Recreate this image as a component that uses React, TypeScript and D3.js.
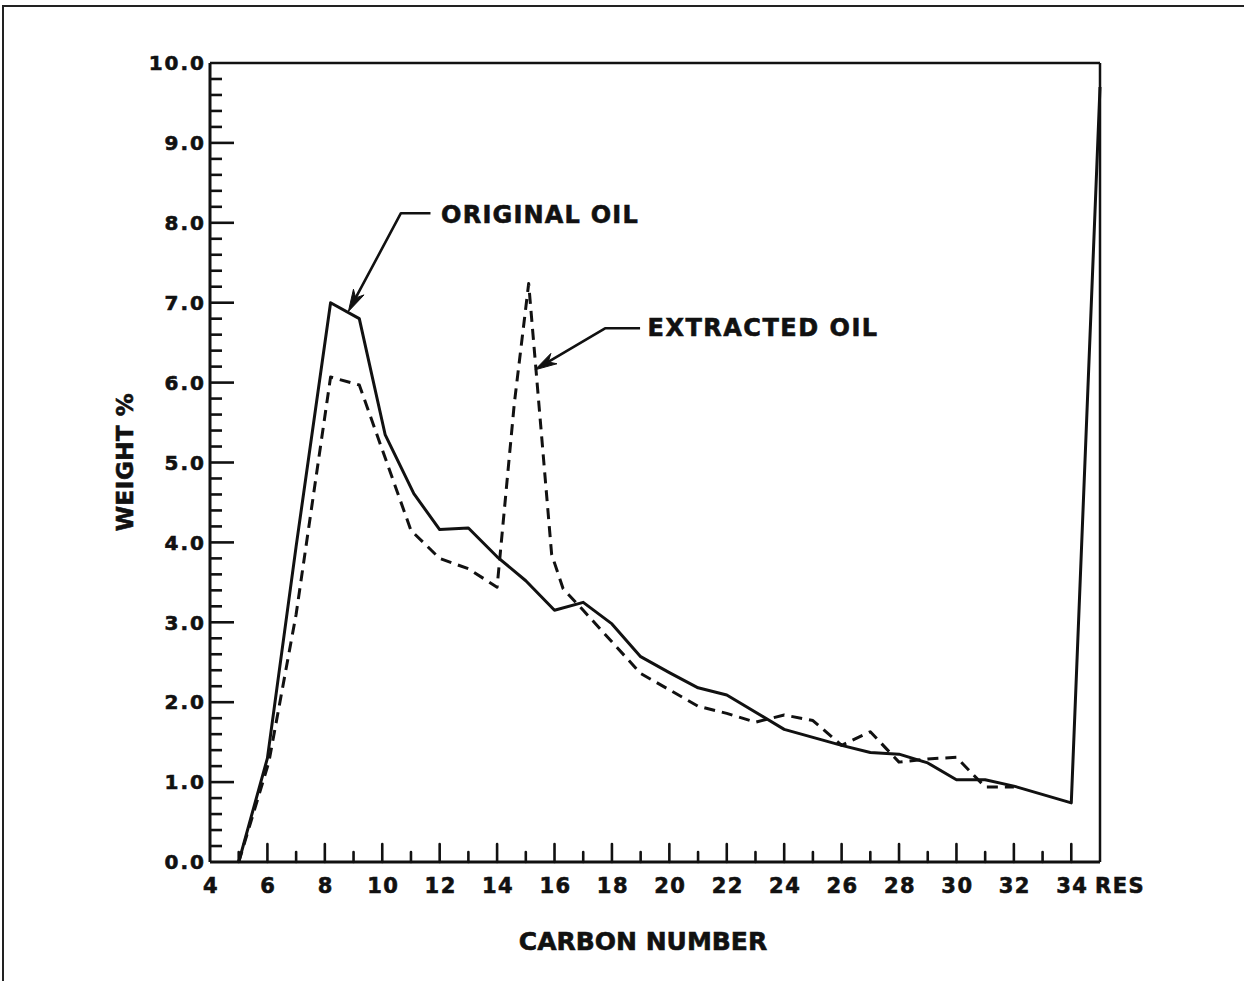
import React from "react";
import * as d3 from "d3";

// carbon number (RES plotted at 35) and weight % for each oil
const originalCarbon = [5, 6, 7, 8.2, 9.2, 10.1, 11.1, 12, 13, 14, 15, 16, 17, 18, 19, 20, 21, 22, 24, 25, 26, 27, 28, 29, 30, 31, 32, 34, 35];
const originalWeight = [0, 1.3, 3.95, 7.0, 6.8, 5.35, 4.61, 4.16, 4.18, 3.82, 3.52, 3.15, 3.25, 2.98, 2.57, 2.37, 2.18, 2.09, 1.66, 1.56, 1.46, 1.37, 1.35, 1.24, 1.03, 1.03, 0.95, 0.74, 9.7];

const extractedCarbon = [5, 6.05, 7, 8.2, 9.2, 11, 12, 13, 14, 14.6, 15.1, 15.9, 16.3, 17, 19, 21, 22, 23, 24, 25, 26, 27, 28, 29, 30, 31, 32];
const extractedWeight = [0, 1.25, 3.1, 6.07, 5.97, 4.15, 3.8, 3.67, 3.44, 5.74, 7.24, 3.85, 3.42, 3.15, 2.36, 1.95, 1.86, 1.75, 1.84, 1.77, 1.46, 1.63, 1.25, 1.29, 1.31, 0.94, 0.94];

const xMajor = [4, 6, 8, 10, 12, 14, 16, 18, 20, 22, 24, 26, 28, 30, 32, 34];
const xMinor = [5, 7, 9, 11, 13, 15, 17, 19, 21, 23, 25, 27, 29, 31, 33];
const yMajor = [0, 1, 2, 3, 4, 5, 6, 7, 8, 9, 10];

// label leaders: [tip, elbow, end] in data units
const originalLeader = [[8.82, 6.89], [10.65, 8.12], [11.68, 8.12]];
const extractedLeader = [[15.32, 6.16], [17.76, 6.68], [18.98, 6.68]];

const FONT = "'DejaVu Sans', Arial, sans-serif";
const INK = "#111";

// scanned type looks heavy, so give the text a thin outline
const textStyle = {
  fontFamily: FONT,
  fontWeight: "bold",
  fill: INK,
  stroke: INK,
  strokeWidth: 0.6,
};

const Arrow = ({ pts, x, y }) => {
  const p = pts.map(([c, w]) => [x(c), y(w)]);
  const [tip, elbow, end] = p;
  const ang = Math.atan2(tip[1] - elbow[1], tip[0] - elbow[0]);
  const len = 22;
  const half = 6;
  const bx = tip[0] - len * Math.cos(ang);
  const by = tip[1] - len * Math.sin(ang);
  const nx = tip[0] - len * 0.7 * Math.cos(ang);
  const ny = tip[1] - len * 0.7 * Math.sin(ang);
  const px = -Math.sin(ang) * half;
  const py = Math.cos(ang) * half;
  const head = `M${tip[0]},${tip[1]}L${bx + px},${by + py}L${nx},${ny}L${bx - px},${by - py}Z`;
  return (
    <g>
      <polyline
        points={`${end[0]},${end[1]} ${elbow[0]},${elbow[1]} ${nx},${ny}`}
        fill="none"
        stroke={INK}
        strokeWidth={2.6}
        strokeLinejoin="round"
      />
      <path d={head} fill={INK} stroke={INK} strokeWidth={1} />
    </g>
  );
};

const App = () => {
  const width = 1244;
  const height = 981;

  const x = d3.scaleLinear().domain([4, 35]).range([210, 1100]);
  const y = d3.scaleLinear().domain([0, 10]).range([862, 63]);

  const line = d3
    .line()
    .x((d) => x(d[0]))
    .y((d) => y(d[1]));

  const originalPath = line(originalCarbon.map((c, i) => [c, originalWeight[i]]));
  const extractedPath = line(extractedCarbon.map((c, i) => [c, extractedWeight[i]]));

  const yMinor = d3.range(0, 10.01, 0.2).filter((v) => Math.abs(v - Math.round(v)) > 0.01);
  const fmt = d3.format(".1f");

  const x0 = x(4);
  const x1 = x(35);
  const y0 = y(0);
  const y1 = y(10);

  return (
    <svg
      width={width}
      height={height}
      style={{ position: "absolute", left: 0, top: 0, background: "#fff" }}
    >
      <rect width={width} height={height} fill="#fff" />
      {/* page frame */}
      <path d={`M3,${height} L3,6 L${width},6`} fill="none" stroke="#222" strokeWidth={2} />

      {/* plot box */}
      <line x1={x0} y1={y1} x2={x1} y2={y1} stroke={INK} strokeWidth={2.5} />
      <line x1={x1} y1={y1} x2={x1} y2={y0} stroke={INK} strokeWidth={2.5} />
      <line x1={x0} y1={y0} x2={x1} y2={y0} stroke={INK} strokeWidth={3} />
      <line x1={x0} y1={y1} x2={x0} y2={y0} stroke={INK} strokeWidth={3} />

      {/* y ticks */}
      {yMajor.slice(1, -1).map((v) => (
        <line key={`ym${v}`} x1={x0} x2={x0 + 24} y1={y(v)} y2={y(v)} stroke={INK} strokeWidth={2.6} />
      ))}
      {yMinor.map((v, i) => (
        <line key={`yn${i}`} x1={x0} x2={x0 + 12} y1={y(v)} y2={y(v)} stroke={INK} strokeWidth={2.6} />
      ))}
      {yMajor.map((v) => (
        <text
          key={`yl${v}`}
          x={x0 - 4}
          y={y(v)}
          dy="0.36em"
          textAnchor="end"
          fontSize={20}
          letterSpacing={2}
          {...textStyle}
        >
          {fmt(v)}
        </text>
      ))}

      {/* x ticks */}
      {xMajor.slice(1).map((c) => (
        <line key={`xm${c}`} x1={x(c)} x2={x(c)} y1={y0} y2={y0 - 18} stroke={INK} strokeWidth={2.6} strokeLinecap="round" />
      ))}
      {xMinor.map((c) => (
        <line key={`xn${c}`} x1={x(c)} x2={x(c)} y1={y0} y2={y0 - 10} stroke={INK} strokeWidth={2.6} strokeLinecap="round" />
      ))}
      {xMajor.map((c) => (
        <text
          key={`xl${c}`}
          x={x(c) + 1}
          y={y0 + 31}
          textAnchor="middle"
          fontSize={21}
          letterSpacing={1.5}
          {...textStyle}
        >
          {c}
        </text>
      ))}
      <text x={x(35) - 5} y={y0 + 31} textAnchor="start" fontSize={21} letterSpacing={1.5} {...textStyle}>
        RES
      </text>

      {/* axis titles */}
      <text x={643} y={950} textAnchor="middle" fontSize={25} {...textStyle}>
        CARBON NUMBER
      </text>
      <text
        transform="translate(133, 462) rotate(-90)"
        textAnchor="middle"
        fontSize={23}
        letterSpacing={0.5}
        {...textStyle}
      >
        WEIGHT %
      </text>

      {/* series */}
      <path d={extractedPath} fill="none" stroke={INK} strokeWidth={3} strokeDasharray="11 7" strokeLinejoin="round" />
      <path d={originalPath} fill="none" stroke={INK} strokeWidth={3} strokeLinejoin="round" />

      {/* labels */}
      <Arrow pts={originalLeader} x={x} y={y} />
      <Arrow pts={extractedLeader} x={x} y={y} />
      <text x={x(12.05)} y={y(8.0)} fontSize={24} letterSpacing={1.2} {...textStyle}>
        ORIGINAL OIL
      </text>
      <text x={x(19.24)} y={y(6.58)} fontSize={24} letterSpacing={1.5} {...textStyle}>
        EXTRACTED OIL
      </text>
    </svg>
  );
};

export default App;
